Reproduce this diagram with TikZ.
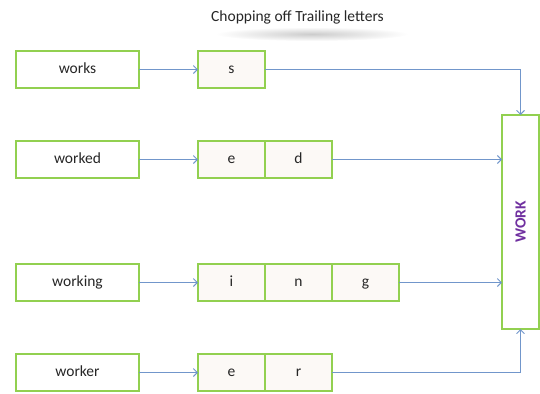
\documentclass[tikz,border=0pt]{standalone}
\usepackage{fontspec}
\setmainfont{Carlito}
\usetikzlibrary{arrows.meta}
\definecolor{boxgreen}{HTML}{92D050}
\definecolor{linkblue}{HTML}{7196CB}
\definecolor{cellfill}{HTML}{FCF9F6}
\definecolor{rootpurple}{HTML}{7030A0}
\definecolor{ink}{HTML}{262626}
\tikzset{
  boxfont/.style={text=ink, font=\fontsize{15.5bp}{18bp}\selectfont, text height=10bp, text depth=2bp},
  wordbox/.style={boxfont, draw=boxgreen, line width=1.6bp, fill=white, minimum width=123bp, minimum height=37bp,
    inner sep=0pt, outer sep=0pt},
  cellbox/.style={boxfont, draw=boxgreen, line width=1.6bp, fill=cellfill, minimum width=67bp, minimum height=37bp,
    inner sep=0pt, outer sep=0pt},
  link/.style={draw=linkblue, line width=0.9bp},
  linkarrow/.style={link, -{Straight Barb[length=4bp,width=8bp,line width=0.9bp]}}
}
\begin{document}
\begin{tikzpicture}[x=1bp,y=-1bp]
\useasboundingbox (0,0) rectangle (540,393);
% title with its soft shadow
\shade[inner color=black!20, outer color=white] (312,34) ellipse (96 and 7);
\node[text=ink] (title) at (297.5,17) {\fontsize{15.5bp}{18bp}\selectfont Chopping off Trailing letters};

% root word
\node[draw=boxgreen, line width=1.6bp, fill=white, minimum width=37bp, minimum height=214bp, inner sep=0pt, outer sep=0pt]
  (root) at (520.5,222) {};
\node[rotate=90, text=rootpurple, font=\fontsize{15.5bp}{18bp}\selectfont\bfseries] (rootlabel) at (520.5,222) {WORK};

% works
\node[wordbox] (works) at (77.5,69.5) {works};
\node[cellbox] (s1) at (231.5,69.5) {s};
% worked
\node[wordbox] (worked) at (77.5,159.5) {worked};
\node[cellbox] (e2) at (231.5,159.5) {e};
\node[cellbox] (d2) at (298.5,159.5) {d};
% working
\node[wordbox] (working) at (77.5,282.5) {working};
\node[cellbox] (i3) at (231.5,282.5) {i};
\node[cellbox] (n3) at (298.5,282.5) {n};
\node[cellbox] (g3) at (365.5,282.5) {g};
% worker
\node[wordbox] (worker) at (77.5,372.5) {worker};
\node[cellbox] (e4) at (231.5,372.5) {e};
\node[cellbox] (r4) at (298.5,372.5) {r};

% connectors
\draw[linkarrow] (works.east) -- (s1.west);
\draw[linkarrow] (worked.east) -- (e2.west);
\draw[linkarrow] (working.east) -- (i3.west);
\draw[linkarrow] (worker.east) -- (e4.west);
\draw[linkarrow] (s1.east) -| (root.north);
\draw[linkarrow] (d2.east) -- (d2.east -| root.west);
\draw[linkarrow] (g3.east) -- (g3.east -| root.west);
\draw[linkarrow] (r4.east) -| (root.south);
\end{tikzpicture}
\end{document}
